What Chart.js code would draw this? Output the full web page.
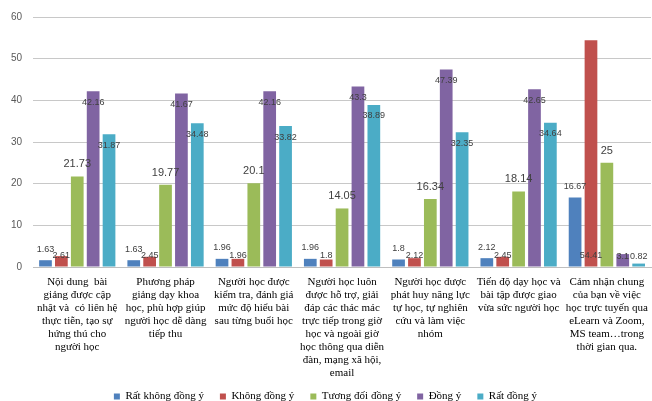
<!DOCTYPE html>
<html>
<head>
<meta charset="utf-8">
<script src="https://cdn.jsdelivr.net/npm/chart.js@4"></script>
<style>
  html, body { margin: 0; padding: 0; background: #fff; }
  #wrap { width: 652px; height: 401px; position: relative; }
</style>
</head>
<body>
<div id="wrap"><canvas id="chart"></canvas></div>
<script>
const categories = [
  ['Nội dung  bài', 'giảng được cập', 'nhật và  có liên hệ', 'thực tiễn, tạo sự', 'hứng thú cho', 'người học'],
  ['Phương pháp', 'giảng dạy khoa', 'học, phù hợp giúp', 'người học dễ dàng', 'tiếp thu'],
  ['Người học được', 'kiểm tra, đánh giá', 'mức độ hiểu bài', 'sau từng buổi học'],
  ['Người học luôn', 'được hỗ trợ, giải', 'đáp các thác mác', 'trực tiếp trong giờ', 'học và ngoài giờ', 'học thông qua diễn', 'đàn, mạng xã hội,', 'email'],
  ['Người học được', 'phát huy năng lực', 'tự học, tự nghiên', 'cứu và làm việc', 'nhóm'],
  ['Tiến độ dạy học và', 'bài tập được giao', 'vừa sức người học'],
  ['Cảm nhận chung', 'của bạn về việc', 'học trực tuyến qua', 'eLearn và Zoom,', 'MS team…trong', 'thời gian qua.']
];

const seriesNames = ['Rất không đồng ý', 'Không đồng ý', 'Tương đối đồng ý', 'Đồng ý', 'Rất đồng ý'];

const rkdy = [1.63, 1.63, 1.96, 1.96, 1.8, 2.12, 16.67];
const kdy = [2.61, 2.45, 1.96, 1.8, 2.12, 2.45, 54.41];
const tddy = [21.73, 19.77, 20.1, 14.05, 16.34, 18.14, 25];
const dy = [42.16, 41.67, 42.16, 43.3, 47.39, 42.65, 3.1];
const rdy = [31.87, 34.48, 33.82, 38.89, 32.35, 34.64, 0.82];

const yTicks = [0, 10, 20, 30, 40, 50, 60];

const colors = ['#4f81bd', '#c0504d', '#9bbb59', '#8064a2', '#4bacc6'];
// where each series puts its value label (Excel-like placement)
const labelModes = ['above', 'base', 'above', 'inside', 'inside'];
const labelSizes = [9, 9, 11, 9, 9];

const valueLabels = {
  id: 'valueLabels',
  afterDatasetsDraw(chart) {
    const ctx = chart.ctx;
    const base = chart.scales.y.getPixelForValue(0);
    ctx.save();
    ctx.textAlign = 'center';
    ctx.textBaseline = 'middle';
    ctx.fillStyle = '#404040';
    chart.data.datasets.forEach((ds, i) => {
      const meta = chart.getDatasetMeta(i);
      const mode = labelModes[i];
      ctx.font = `${labelSizes[i]}px "Liberation Sans", Arial, sans-serif`;
      meta.data.forEach((bar, j) => {
        const v = ds.data[j];
        let y;
        if (mode === 'above') y = bar.y - (labelSizes[i] > 9 ? 12 : 11);
        else if (mode === 'base') y = base - 11;
        else y = Math.min(bar.y + 11, base - 10);
        ctx.fillText(String(v), bar.x, y);
      });
    });
    ctx.restore();
  }
};

const seriesData = [rkdy, kdy, tddy, dy, rdy];

new Chart(document.getElementById('chart'), {
  type: 'bar',
  data: {
    labels: categories,
    datasets: seriesData.map((d, i) => ({
      label: seriesNames[i],
      data: d,
      backgroundColor: colors[i],
      borderWidth: 0,
      categoryPercentage: 0.9,
      barPercentage: 0.8
    }))
  },
  options: {
    responsive: true,
    maintainAspectRatio: false,
    animation: false,
    layout: { padding: { left: 0, right: 1, top: 11, bottom: -11 } },
    plugins: {
      legend: {
        position: 'bottom',
        labels: {
          boxWidth: 6,
          boxHeight: 6,
          padding: 16,
          color: '#000',
          font: { family: '"Liberation Serif", "Times New Roman", serif', size: 11 }
        }
      },
      tooltip: { enabled: false }
    },
    scales: {
      x: {
        grid: { display: false, drawTicks: false },
        border: { display: true, color: '#bfbfbf' },
        afterFit: (axis) => {
          // labels run a little into the legend's top padding, like the original
          axis.height = 108;
          axis.paddingLeft = 0;
          axis.paddingRight = 0;
          axis._computeLabelArea = () => undefined;
        },
        ticks: {
          autoSkip: false,
          maxRotation: 0,
          minRotation: 0,
          padding: 9,
          color: '#000',
          font: { family: '"Liberation Serif", "Times New Roman", serif', size: 11, lineHeight: 13 / 11 }
        }
      },
      y: {
        min: 0,
        max: 60,
        afterBuildTicks: (axis) => { axis.ticks = yTicks.map((v) => ({ value: v })); },
        grid: { color: '#c8c8c8', drawTicks: false },
        border: { display: false },
        ticks: {
          padding: 11,
          color: '#595959',
          font: { family: '"Liberation Sans", Arial, sans-serif', size: 10 }
        }
      }
    }
  },
  plugins: [valueLabels]
});
</script>
</body>
</html>
